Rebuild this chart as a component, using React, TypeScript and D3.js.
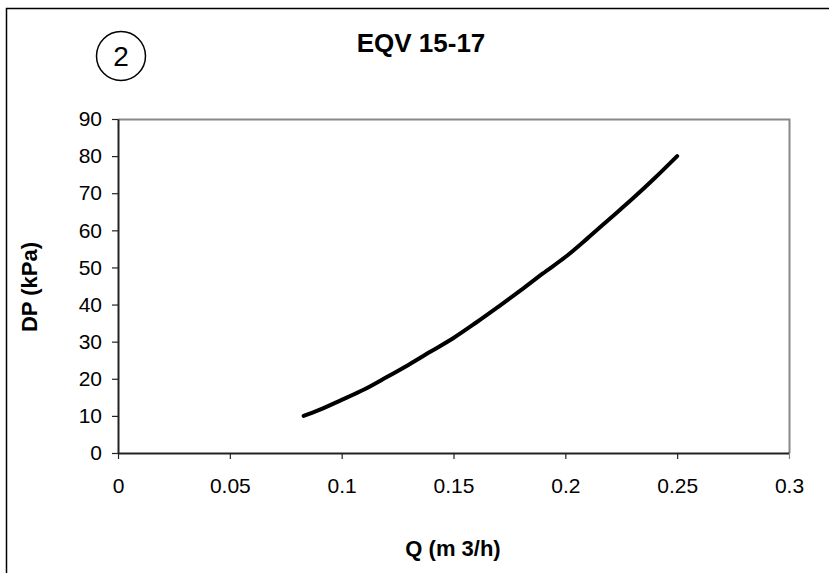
import { useRef, useEffect } from 'react';
import * as d3 from 'd3';

// flow (m3/h) and pressure drop (kPa)
const flow = [0.083, 0.09, 0.1, 0.11, 0.12, 0.13, 0.14, 0.15, 0.16, 0.17, 0.18, 0.19, 0.2, 0.21, 0.22, 0.23, 0.24, 0.25];
const pressure = [10, 11.6, 14.3, 17.1, 20.4, 23.8, 27.4, 31, 35.1, 39.4, 43.8, 48.4, 52.8, 57.9, 63.2, 68.5, 74.1, 80];
const xTicks = [0, 0.05, 0.1, 0.15, 0.2, 0.25, 0.3];
const yTicks = [0, 10, 20, 30, 40, 50, 60, 70, 80, 90];

const W = 829;
const H = 573;

const App = () => {
  const svgRef = useRef<SVGSVGElement>(null);

  useEffect(() => {
    const svg = d3.select(svgRef.current);
    svg.selectAll('*').remove();
    const font = 'Liberation Sans, Arial, sans-serif';

    const left = 118, right = 789, top = 119, bottom = 453;
    const x = d3.scaleLinear().domain([0, 0.3]).range([left, right]);
    const y = d3.scaleLinear().domain([0, 90]).range([bottom, top]);

    svg.append('rect').attr('width', W).attr('height', H).attr('fill', '#fff');

    // outer chart border (runs off the picture right and bottom)
    svg.append('rect')
      .attr('x', 6.5).attr('y', 8.5).attr('width', W + 20).attr('height', H + 20)
      .attr('fill', 'none').attr('stroke', '#000').attr('stroke-width', 1.5);

    // plot frame: grey top and right
    svg.append('path')
      .attr('d', `M${left},${top + 0.5}H${right + 0.5}V${bottom}`)
      .attr('fill', 'none').attr('stroke', '#888').attr('stroke-width', 2);

    const gx = svg.append('g').attr('transform', `translate(0,${bottom})`)
      .call(d3.axisBottom(x).tickValues(xTicks).tickSize(6).tickSizeOuter(0).tickPadding(19)
        .tickFormat(d => String(d)));
    const gy = svg.append('g').attr('transform', `translate(${left},0)`)
      .call(d3.axisLeft(y).tickValues(yTicks).tickSize(6).tickSizeOuter(0).tickPadding(10));

    [gx, gy].forEach(g => {
      g.select('.domain').attr('stroke', '#222').attr('stroke-width', 2);
      g.selectAll('.tick line').attr('stroke', '#222').attr('stroke-width', 1.2);
      g.selectAll('.tick text').attr('font-family', font).attr('font-size', 21).attr('fill', '#000');
    });
    gx.selectAll('.tick:last-of-type line').attr('stroke', '#888');

    const pts = flow.map((q, i) => [q, pressure[i]] as [number, number]);
    const line = d3.line<[number, number]>()
      .x(d => x(d[0])).y(d => y(d[1]))
      .curve(d3.curveCatmullRom);
    svg.append('path').datum(pts)
      .attr('d', line)
      .attr('fill', 'none').attr('stroke', '#000').attr('stroke-width', 4)
      .attr('stroke-linecap', 'round').attr('stroke-linejoin', 'round');

    // title
    svg.append('text').attr('x', 421).attr('y', 52).attr('text-anchor', 'middle')
      .attr('font-family', font).attr('font-weight', 'bold').attr('font-size', 26)
      .text('EQV 15-17');

    // circled number
    svg.append('circle').attr('cx', 121).attr('cy', 56).attr('r', 24.5)
      .attr('fill', 'none').attr('stroke', '#000').attr('stroke-width', 1.5);
    svg.append('text').attr('x', 121).attr('y', 66).attr('text-anchor', 'middle')
      .attr('font-family', font).attr('font-size', 28).text('2');

    // axis titles
    svg.append('text').attr('x', 453).attr('y', 556).attr('text-anchor', 'middle')
      .attr('font-family', font).attr('font-weight', 'bold').attr('font-size', 22)
      .attr('xml:space', 'preserve')
      .text('Q (m 3/h)');
    svg.append('text')
      .attr('transform', 'translate(37,287) rotate(-90)')
      .attr('text-anchor', 'middle')
      .attr('font-family', font).attr('font-weight', 'bold').attr('font-size', 22)
      .text('DP (kPa)');
  }, []);

  return (
    <div style={{ position: 'fixed', left: 0, top: 0 }}>
      <svg ref={svgRef} width={W} height={H} style={{ display: 'block' }}></svg>
    </div>
  );
};

export default App;
